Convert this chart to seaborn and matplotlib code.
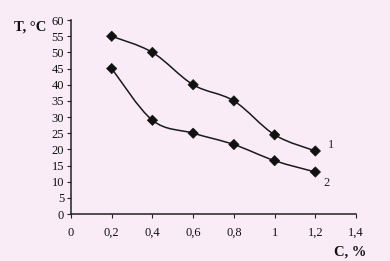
import numpy as np
import pandas as pd
import seaborn as sns
import matplotlib
matplotlib.use("Agg")
import matplotlib.pyplot as plt
from matplotlib.path import Path
from matplotlib.patches import PathPatch

conc = [0.2, 0.4, 0.6, 0.8, 1.0, 1.2]
temp1 = [55, 50, 40, 35, 24.5, 19.5]
temp2 = [45, 29, 25, 21.5, 16.5, 13]
series_labels = ["1", "2"]
xticks = [0, 0.2, 0.4, 0.6, 0.8, 1.0, 1.2, 1.4]
xtick_labels = ["0", "0,2", "0,4", "0,6", "0,8", "1", "1,2", "1,4"]
yticks = list(range(0, 65, 5))

sns.set_style("ticks")
plt.rcParams["font.family"] = ["Liberation Serif", "DejaVu Serif"]

fig = plt.figure(figsize=(3.9, 2.61), dpi=100, facecolor="#f9ecf7")
ax = fig.add_axes([0.182, 0.18, 0.731, 0.743])
ax.set_facecolor("none")

df = pd.DataFrame({
    "C": conc * 2,
    "T": temp1 + temp2,
    "s": [series_labels[0]] * len(conc) + [series_labels[1]] * len(conc),
})


def smooth_path(xs, ys):
    pts = np.column_stack([xs, ys]).astype(float)
    verts = [tuple(pts[0])]
    codes = [Path.MOVETO]
    n = len(pts)
    for i in range(n - 1):
        p0 = pts[i - 1] if i > 0 else pts[i]
        p1 = pts[i]
        p2 = pts[i + 1]
        p3 = pts[i + 2] if i + 2 < n else pts[i + 1]
        c1 = p1 + (p2 - p0) / 6.0
        c2 = p2 - (p3 - p1) / 6.0
        verts += [tuple(c1), tuple(c2), tuple(p2)]
        codes += [Path.CURVE4] * 3
    return Path(verts, codes)


for ys in (temp1, temp2):
    ax.add_patch(PathPatch(smooth_path(conc, ys), facecolor="none",
                           edgecolor="#1a1a1a", lw=1.1))

sns.scatterplot(data=df, x="C", y="T", hue="s", palette=["#111111", "#111111"],
                marker="D", s=28, edgecolor="#111111", legend=False, ax=ax, zorder=3)

ax.set_xlim(0, 1.4)
ax.set_ylim(0, 60)
ax.set_xticks(xticks)
ax.set_xticklabels(xtick_labels)
ax.set_yticks(yticks)
ax.tick_params(axis="both", labelsize=9, length=3, width=0.8, color="#222222",
               labelcolor="#111111", pad=2)
ax.tick_params(axis="x", pad=6)
sns.despine(ax=ax)
for sp in ("left", "bottom"):
    ax.spines[sp].set_linewidth(1.1)
    ax.spines[sp].set_color("#222222")
ax.set_xlabel("")
ax.set_ylabel("")

fig.text(14 / 390, 1 - 27 / 261, "T, °C", fontsize=10.5, fontweight="bold",
         va="center", color="#111111")
fig.text(334 / 390, 1 - 252 / 261, "C, %", fontsize=10.5, fontweight="bold",
         va="center", color="#111111")
ax.annotate(series_labels[0], (conc[-1], temp1[-1]), xytext=(9, 2),
            textcoords="offset points", fontsize=9)
ax.annotate(series_labels[1], (conc[-1], temp2[-1]), xytext=(6, -10),
            textcoords="offset points", fontsize=9)

fig.savefig("out.png", dpi=100, facecolor=fig.get_facecolor())
